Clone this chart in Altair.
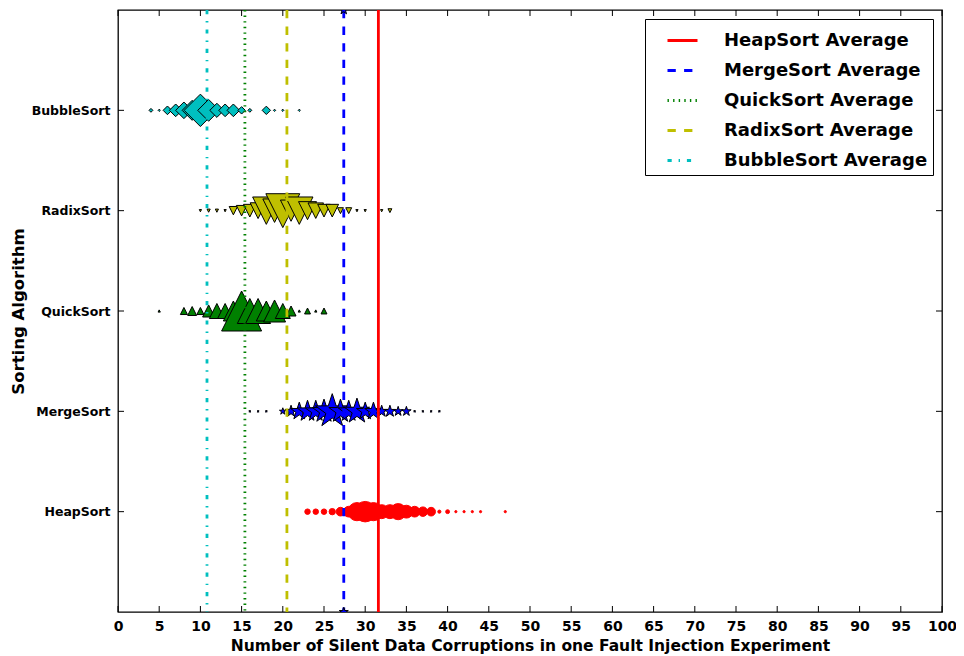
import math
import altair as alt
import pandas as pd

# ---------------- data ----------------
y_order = ["BubbleSort", "RadixSort", "QuickSort", "MergeSort", "HeapSort"]

heap_values = [23, 24, 25, 26, 27, 28, 29, 30, 31, 32, 33, 34, 35, 36, 37, 38, 39, 40, 41, 42, 43, 44, 47]
heap_counts = [6, 6, 6, 8, 15, 23, 66, 84, 66, 39, 39, 52, 33, 23, 18, 15, 2, 3, 1, 1, 1, 1, 1]

merge_values = [16, 17, 18, 20, 21, 22, 23, 24, 25, 26, 27, 28, 29, 30, 31, 32, 33, 34, 35, 36, 37, 38, 39]
merge_counts = [1, 1, 1, 10, 30, 68, 98, 98, 120, 250, 120, 98, 140, 68, 68, 30, 30, 20, 20, 1, 1, 1, 1]

quick_values = [5, 8, 9, 10, 11, 12, 13, 14, 15, 16, 17, 18, 19, 20, 21, 22, 23, 24, 25]
quick_counts = [1, 10, 16, 10, 29, 45, 45, 80, 320, 125, 125, 80, 97, 45, 20, 1, 7, 1, 7]

radix_values = [10, 11, 12, 13, 14, 15, 16, 17, 18, 19, 20, 21, 22, 23, 24, 25, 26, 27, 28, 29, 30, 32, 33]
radix_counts = [1, 2, 2, 1, 14, 22, 32, 50, 150, 110, 230, 90, 150, 65, 48, 32, 32, 7, 7, 1, 1, 1, 3]

bubble_values = [4, 5, 6, 7, 8, 9, 10, 11, 12, 13, 14, 15, 16, 18, 19, 20, 22]
bubble_counts = [3, 1, 15, 32, 55, 80, 210, 95, 40, 32, 32, 11, 3, 14, 1, 1, 1]

legend_labels = ["HeapSort Average", "MergeSort Average", "QuickSort Average",
                 "RadixSort Average", "BubbleSort Average"]
averages = [31.6, 27.4, 15.4, 20.5, 10.8]

x_ticks = list(range(0, 101, 5))

# ---------------- styling ----------------
PLOT_W, PLOT_H = 824, 602
FONT = "DejaVu Sans"
line_colors = ["#FF0000", "#0000FF", "#008000", "#BFBF00", "#00BFBF"]
dash_patterns = [[1, 0], [8.3, 8.3], [1.4, 4.2], [8.3, 8.3], [4.2, 6.9, 1.4, 6.9]]


def star_path():
    pts = []
    for i in range(10):
        r = 1.0 if i % 2 == 0 else 0.382
        a = math.radians(-90 + 36 * i)
        pts.append((r * math.cos(a), r * math.sin(a)))
    return "M" + "L".join(f"{x:.3f},{y:.3f}" for x, y in pts) + "Z"


STAR = star_path()
TRI_UP = "M0,-1L1,1L-1,1Z"
TRI_DOWN = "M0,1L1,-1L-1,-1Z"
DIAMOND = "M-1,0L0,-1L1,0L0,1Z"

rows = []
for algo, vals, cnts in [("HeapSort", heap_values, heap_counts),
                         ("MergeSort", merge_values, merge_counts),
                         ("QuickSort", quick_values, quick_counts),
                         ("RadixSort", radix_values, radix_counts),
                         ("BubbleSort", bubble_values, bubble_counts)]:
    for v, c in zip(vals, cnts):
        rows.append({"algorithm": algo, "value": v, "count": c})
points_df = pd.DataFrame(rows)
avg_df = pd.DataFrame({"label": legend_labels, "avg": averages})
xt_df = pd.DataFrame({"t": x_ticks})
yt_df = pd.DataFrame({"algorithm": y_order})

x_scale = alt.Scale(domain=[0, 100], nice=False, zero=False)
y_scale = alt.Scale(type="point", domain=y_order, padding=1)
size_scale = alt.Scale(type="linear", domain=[0, 320], range=[0, 1600])

x_axis = alt.Axis(values=x_ticks, title="Number of Silent Data Corruptions in one Fault Injection Experiment",
                  labelFont=FONT, labelFontSize=14, labelFontWeight="bold", labelPadding=7,
                  labelFlush=False, labelOverlap=False,
                  titleFont=FONT, titleFontSize=15.5, titleFontWeight="bold", titlePadding=5,
                  ticks=False, domain=False, grid=False, labelColor="black", titleColor="black")
y_axis = alt.Axis(title="Sorting Algorithm",
                  labelFont=FONT, labelFontSize=12.5, labelFontWeight="bold", labelPadding=8,
                  titleFont=FONT, titleFontSize=16.5, titleFontWeight="bold", titlePadding=5,
                  ticks=False, domain=False, grid=False, labelColor="black", titleColor="black")

X = alt.X("value:Q", scale=x_scale, axis=x_axis)
Y = alt.Y("algorithm:N", scale=y_scale, axis=y_axis)

base = alt.Chart(points_df)


def scatter(algo, shape, fill, stroke):
    return base.transform_filter(alt.datum.algorithm == algo).mark_point(
        shape=shape, filled=True, fill=fill, stroke=stroke, strokeWidth=1,
        opacity=1, fillOpacity=1, strokeOpacity=1
    ).encode(x=X, y=Y, size=alt.Size("count:Q", scale=size_scale, legend=None))


heap = scatter("HeapSort", "circle", "#FF0000", "#FF0000")
merge = scatter("MergeSort", STAR, "#0000FF", "black")
quick = scatter("QuickSort", TRI_UP, "#008000", "black")
radix = scatter("RadixSort", TRI_DOWN, "#BFBF00", "black")
bubble = scatter("BubbleSort", DIAMOND, "#00BFBF", "black")

leg = alt.Legend(title=None, orient="top-right", offset=9, symbolType="stroke", symbolSize=900,
                 symbolStrokeWidth=2.8, labelFont=FONT, labelFontSize=18, labelFontWeight="bold",
                 labelColor="black", labelOffset=25, padding=5, rowPadding=4, symbolOffset=16,
                 strokeColor="black", fillColor="white", labelLimit=400, cornerRadius=0)

rules = alt.Chart(avg_df).mark_rule(strokeWidth=2.8).encode(
    x=alt.X("avg:Q", scale=x_scale, axis=x_axis),
    color=alt.Color("label:N", scale=alt.Scale(domain=legend_labels, range=line_colors), legend=leg),
    strokeDash=alt.StrokeDash("label:N", scale=alt.Scale(domain=legend_labels, range=dash_patterns), legend=leg),
)

merge_avg = alt.Chart(avg_df).transform_filter(alt.datum.label == "MergeSort Average")
end_star_style = dict(shape=STAR, filled=True, fill="#0000FF", stroke="black", strokeWidth=1,
                      size=90, opacity=1, clip=True)
end_top = merge_avg.mark_point(**end_star_style).encode(
    x=alt.X("avg:Q", scale=x_scale, axis=x_axis), y=alt.value(0))
end_bottom = merge_avg.mark_point(**end_star_style).encode(
    x=alt.X("avg:Q", scale=x_scale, axis=x_axis), y=alt.value(PLOT_H))

tick_len = 6
xt = alt.Chart(xt_df)
bottom_ticks = xt.mark_rule(color="black", strokeWidth=1).encode(
    x=alt.X("t:Q", scale=x_scale, axis=x_axis), y=alt.value(PLOT_H), y2=alt.value(PLOT_H - tick_len))
top_ticks = xt.mark_rule(color="black", strokeWidth=1).encode(
    x=alt.X("t:Q", scale=x_scale, axis=x_axis), y=alt.value(0), y2=alt.value(tick_len))
yt = alt.Chart(yt_df)
left_ticks = yt.mark_rule(color="black", strokeWidth=1).encode(
    y=Y, x=alt.value(0), x2=alt.value(tick_len))
right_ticks = yt.mark_rule(color="black", strokeWidth=1).encode(
    y=Y, x=alt.value(PLOT_W), x2=alt.value(PLOT_W - tick_len))

chart = alt.layer(
    heap, merge, quick, radix, bubble, rules, end_top, end_bottom,
    bottom_ticks, top_ticks, left_ticks, right_ticks
).properties(
    width=PLOT_W, height=PLOT_H,
    autosize=alt.AutoSizeParams(type="none"),
    padding={"left": 110, "top": 2, "right": 14, "bottom": 42},
    background="white",
).configure_view(stroke="black", strokeWidth=1.3)

chart.save("out.html", embed_options={"renderer": "svg", "actions": False})
